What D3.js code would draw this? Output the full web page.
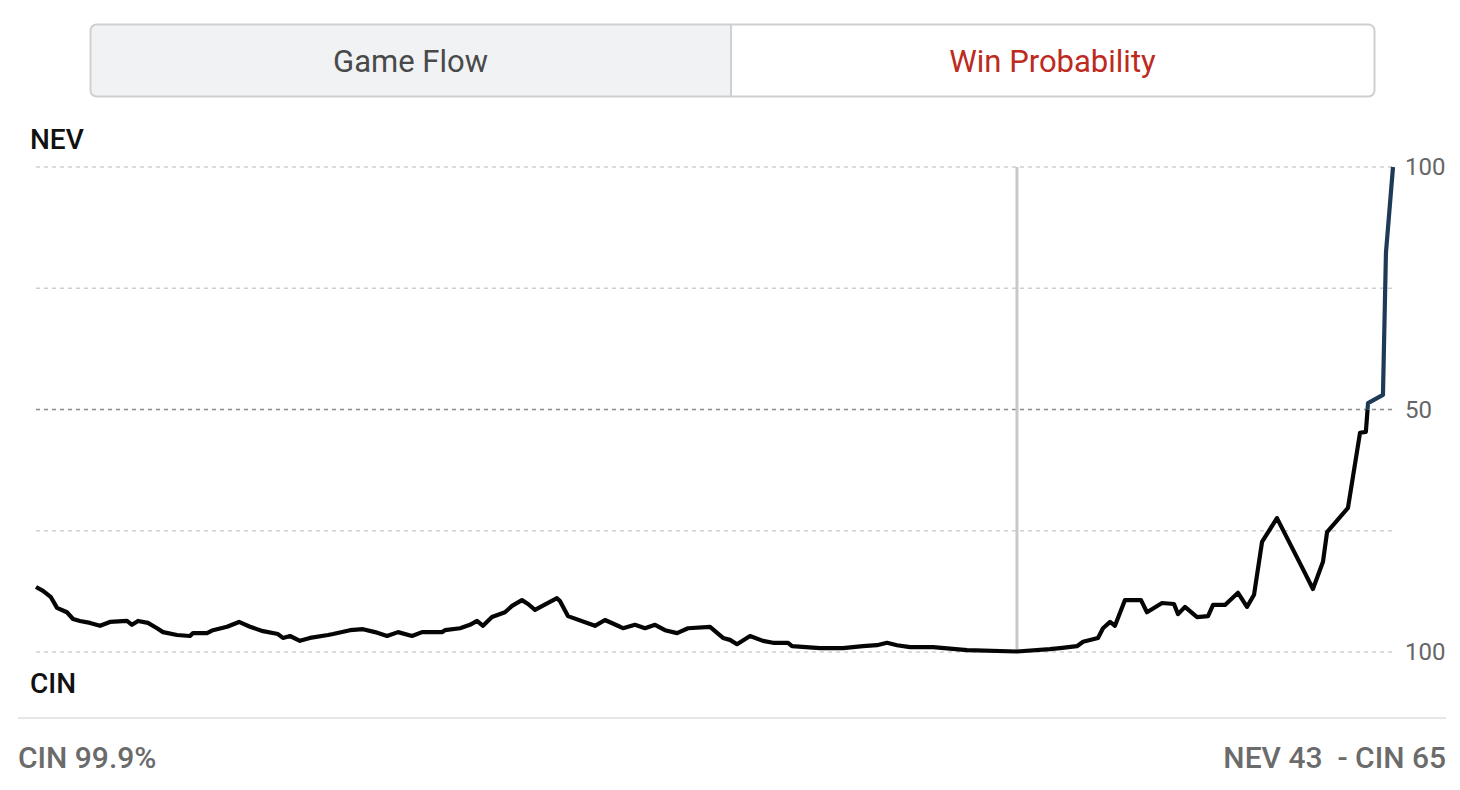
<!DOCTYPE html>
<html>
<head>
<meta charset="utf-8">
<script src="https://cdn.jsdelivr.net/npm/d3@7"></script>
<style>
  html, body { margin: 0; padding: 0; background: #fff; }
  svg { display: block; }
</style>
</head>
<body>
<svg id="chart" width="1460" height="790"></svg>
<script>
// Game progress (% of game elapsed) and NEV win probability (%) per play
const gameProgress = [
  0, 0.52, 1.1, 1.55, 2.28, 2.73, 3.24, 3.98, 4.72, 5.45, 6.71, 7.07, 7.52, 8.25, 8.92, 9.36,
  10.39, 11.35, 11.57, 12.6, 13.04, 14.08, 14.96, 15.77, 16.73, 17.83, 18.2, 18.72, 19.45, 20.19,
  21.52, 21.89, 23.14, 24.1, 24.98, 25.87, 26.68, 27.71, 28.45, 29.92, 30.14, 31.25, 31.98, 32.5,
  32.94, 33.6, 34.56, 35.08, 35.81, 36.26, 36.77, 38.39, 38.61, 39.2, 41.19, 41.93, 43.04, 43.26,
  44.14, 44.88, 45.62, 46.35, 47.24, 48.05, 49.67, 50.63, 51.14, 51.66, 52.62, 53.57, 54.31, 55.42,
  55.71, 57.77, 59.47, 60.94, 61.97, 62.71, 63.45, 64.41, 66.1, 68.61, 72.29, 74.72, 75.46, 76.71,
  77.16, 78.26, 78.63, 79.15, 79.51, 80.25, 81.43, 81.87, 82.98, 83.86, 84.16, 84.67, 85.56, 86.37,
  86.74, 87.62, 88.58, 89.24, 89.76, 90.35, 91.45, 93.29, 94.1, 94.84, 95.14, 96.68, 97.57, 98.0,
  98.16, 99.26, 99.48, 100
];
const nevWinProb = [
  13.4, 12.6, 11.3, 9.1, 8.2, 6.8, 6.4, 6.0, 5.4, 6.2, 6.4, 5.6, 6.4, 6.0, 4.9, 4.1,
  3.5, 3.3, 3.9, 3.9, 4.5, 5.2, 6.2, 5.2, 4.3, 3.7, 2.9, 3.3, 2.3, 2.9,
  3.5, 3.7, 4.5, 4.7, 4.1, 3.3, 4.1, 3.3, 4.1, 4.1, 4.5, 4.9, 5.6, 6.4,
  5.4, 7.2, 8.2, 9.5, 10.7, 9.9, 8.7, 11.1, 10.5, 7.4, 5.4, 6.6, 5.2, 4.9,
  5.6, 4.9, 5.6, 4.5, 3.9, 4.9, 5.2, 2.9, 2.5, 1.6, 3.3, 2.3, 1.9, 1.9,
  1.2, 0.8, 0.8, 1.2, 1.4, 1.9, 1.4, 1.0, 1.0, 0.4, 0.1, 0.6, 0.8, 1.2,
  2.1, 2.9, 4.9, 6.2, 5.4, 10.7, 10.7, 8.2, 10.1, 9.9, 7.8, 9.3, 7.2, 7.4,
  9.7, 9.7, 12.2, 9.3, 11.8, 22.7, 27.6, 17.5, 13.0, 18.6, 24.7, 29.7, 45.2, 45.4,
  51.3, 53.0, 82.3, 100
];

const tabLabels = ["Game Flow", "Win Probability"];
const teams = { top: "NEV", bottom: "CIN" };
const gridValues = [100, 75, 50, 25, 0];
const tickValues = [100, 50, 0];
const tickLabels = ["100", "50", "100"];

// Highlighted play (hover marker) and its readout
const markerProgress = 72.29;
const markerReadout = "CIN 99.9%";
const scoreReadout = "NEV 43  - CIN 65";

const svg = d3.select("#chart");
const FONT = "Roboto, 'Noto Sans', sans-serif";

// ---- Tab switcher ----
const tabX = 90, tabY = 24, tabW = 1284, tabH = 72, tabSplit = 731;
svg.append("path")
  .attr("d", `M${tabX + 6},${tabY} H${tabSplit} V${tabY + tabH} H${tabX + 6} Q${tabX},${tabY + tabH} ${tabX},${tabY + tabH - 6} V${tabY + 6} Q${tabX},${tabY} ${tabX + 6},${tabY} Z`)
  .attr("fill", "#f1f2f3");
svg.append("rect")
  .attr("x", tabX + 0.5).attr("y", tabY + 0.5)
  .attr("width", tabW).attr("height", tabH)
  .attr("rx", 6)
  .attr("fill", "none").attr("stroke", "#cfd0d2").attr("stroke-width", 2);
svg.append("line")
  .attr("x1", tabSplit).attr("x2", tabSplit)
  .attr("y1", tabY).attr("y2", tabY + tabH)
  .attr("stroke", "#cfd0d2").attr("stroke-width", 2);
svg.append("text")
  .attr("x", (tabX + tabSplit) / 2).attr("y", tabY + tabH / 2 + 1)
  .attr("text-anchor", "middle").attr("dominant-baseline", "central")
  .attr("font-family", FONT).attr("font-size", 31)
  .attr("fill", "#48494a")
  .text(tabLabels[0]);
svg.append("text")
  .attr("x", (tabSplit + tabX + tabW) / 2).attr("y", tabY + tabH / 2 + 1)
  .attr("text-anchor", "middle").attr("dominant-baseline", "central")
  .attr("font-family", FONT).attr("font-size", 31)
  .attr("fill", "#bc2a20")
  .text(tabLabels[1]);

// ---- Scales ----
const x = d3.scaleLinear().domain([0, 100]).range([36, 1393]);
const y = d3.scaleLinear().domain([0, 100]).range([652, 167]);

// ---- Gridlines ----
svg.append("g").selectAll("line")
  .data(gridValues)
  .join("line")
  .attr("x1", x(0)).attr("x2", x(100))
  .attr("y1", d => y(d)).attr("y2", d => y(d))
  .attr("stroke", d => d === 50 ? "#8a8a8a" : "#cfcfcf")
  .attr("stroke-width", d => d === 50 ? 1.5 : 1.3)
  .attr("stroke-dasharray", "4,4");

// ---- Right axis labels ----
const axis = d3.axisRight(y)
  .tickValues(tickValues)
  .tickSize(0)
  .tickPadding(12)
  .tickFormat((d, i) => tickLabels[i]);
const axisG = svg.append("g")
  .attr("transform", `translate(${x(100)},0)`)
  .call(axis);
axisG.select(".domain").remove();
axisG.selectAll("text")
  .attr("font-family", FONT).attr("font-size", 24)
  .attr("fill", "#666");

// ---- Team labels ----
svg.append("text")
  .attr("x", 30).attr("y", 149)
  .attr("font-family", FONT).attr("font-size", 28).attr("font-weight", 500)
  .attr("fill", "#111").text(teams.top);
svg.append("text")
  .attr("x", 30).attr("y", 693)
  .attr("font-family", FONT).attr("font-size", 28).attr("font-weight", 500)
  .attr("fill", "#111").text(teams.bottom);

// ---- Hover marker ----
svg.append("line")
  .attr("x1", x(markerProgress)).attr("x2", x(markerProgress))
  .attr("y1", y(100)).attr("y2", y(0))
  .attr("stroke", "#c8c8c8").attr("stroke-width", 3);

// ---- Win probability line (black below 50, navy above) ----
const data = gameProgress.map((t, i) => ({ t, v: nevWinProb[i] }));
const line = d3.line().x(d => x(d.t)).y(d => y(d.v));

const defs = svg.append("defs");
defs.append("clipPath").attr("id", "clip-cin")
  .append("rect").attr("x", 0).attr("width", 1460)
  .attr("y", y(50)).attr("height", 790 - y(50));
defs.append("clipPath").attr("id", "clip-nev")
  .append("rect").attr("x", 0).attr("width", 1460)
  .attr("y", 0).attr("height", y(50));

svg.append("path")
  .datum(data)
  .attr("d", line)
  .attr("fill", "none")
  .attr("stroke", "#050505")
  .attr("stroke-width", 4.2)
  .attr("stroke-linejoin", "round")
  .attr("clip-path", "url(#clip-cin)");
svg.append("path")
  .datum(data)
  .attr("d", line)
  .attr("fill", "none")
  .attr("stroke", "#1e3a57")
  .attr("stroke-width", 4.2)
  .attr("stroke-linejoin", "round")
  .attr("clip-path", "url(#clip-nev)");

// ---- Footer ----
svg.append("line")
  .attr("x1", 18).attr("x2", 1446)
  .attr("y1", 718).attr("y2", 718)
  .attr("stroke", "#e6e6e6").attr("stroke-width", 2);
svg.append("text")
  .attr("x", 18).attr("y", 768)
  .attr("font-family", FONT).attr("font-size", 30).attr("font-weight", 500)
  .attr("fill", "#6b6b6b").text(markerReadout);
svg.append("text")
  .attr("x", 1446).attr("y", 768)
  .attr("text-anchor", "end")
  .attr("font-family", FONT).attr("font-size", 30).attr("font-weight", 500)
  .attr("fill", "#6b6b6b")
  .style("white-space", "pre")
  .text(scoreReadout);
</script>
</body>
</html>
